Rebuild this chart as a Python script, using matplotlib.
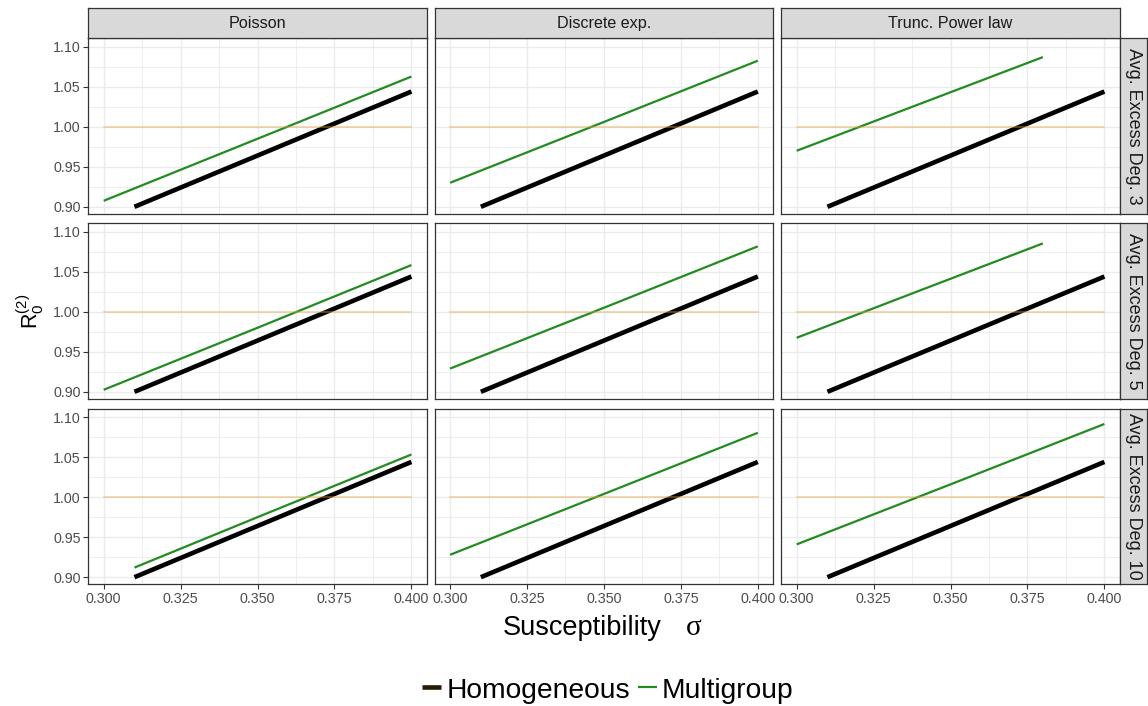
import matplotlib
matplotlib.use("Agg")
import matplotlib.pyplot as plt
from matplotlib.lines import Line2D
import numpy as np

plt.rcParams['font.family'] = ['Liberation Sans', 'DejaVu Sans']
plt.rcParams['mathtext.fontset'] = 'custom'
plt.rcParams['mathtext.rm'] = 'Liberation Sans'
plt.rcParams['mathtext.it'] = 'Liberation Sans:italic'
plt.rcParams['mathtext.bf'] = 'Liberation Sans:bold'

# ---- data -------------------------------------------------------------
distributions = ["Poisson", "Discrete exp.", "Trunc. Power law"]
excess_degrees = [3, 5, 10]

# homogeneous model (identical in every panel)
sigma_homog = [0.31, 0.35, 0.40]
r0_homog = [0.900, 0.964, 1.044]

# multigroup model, one row per average excess degree (3, 5, 10)
mg_poisson_sigma = [[0.30, 0.35, 0.40], [0.30, 0.35, 0.40], [0.31, 0.35, 0.40]]
mg_poisson_r0 = [[0.9075, 0.985, 1.0627], [0.9025, 0.980, 1.0583], [0.912, 0.975, 1.0533]]
mg_discexp_sigma = [[0.30, 0.35, 0.40], [0.30, 0.35, 0.40], [0.30, 0.35, 0.40]]
mg_discexp_r0 = [[0.930, 1.006, 1.0825], [0.929, 1.005, 1.0817], [0.928, 1.004, 1.0804]]
mg_powerlaw_sigma = [[0.30, 0.34, 0.38], [0.30, 0.34, 0.38], [0.30, 0.35, 0.40]]
mg_powerlaw_r0 = [[0.970, 1.0285, 1.087], [0.9675, 1.0265, 1.0854], [0.941, 1.016, 1.0914]]

threshold_sigma = [0.30, 0.40]
threshold = 1.0

x_ticks = [0.300, 0.325, 0.350, 0.375, 0.400]
y_ticks = [0.90, 0.95, 1.00, 1.05, 1.10]

mg_sigma = [mg_poisson_sigma, mg_discexp_sigma, mg_powerlaw_sigma]
mg_r0 = [mg_poisson_r0, mg_discexp_r0, mg_powerlaw_r0]

# ---- layout (pixels) --------------------------------------------------
W, H = 1148, 706
fig = plt.figure(figsize=(W / 100, H / 100), dpi=100)


def rect(left, top, width, height):
    return [left / W, 1 - (top + height) / H, width / W, height / H]


col_left = [88.3, 434.7, 781.3]
row_top = [38.3, 223.3, 408.7]
pw, ph = 338.5, 175.7

BORDER = '#333333'
GRID = '#EBEBEB'
STRIP = '#D9D9D9'
GREEN = '#228B22'
ORANGE = '#E8A33A'

for r in range(3):
    for c in range(3):
        ax = fig.add_axes(rect(col_left[c], row_top[r], pw, ph))
        ax.set_xlim(0.295, 0.405)
        ax.set_ylim(0.891, 1.1105)
        ax.set_xticks(x_ticks)
        ax.set_xticks(np.array(x_ticks[:-1]) + 0.0125, minor=True)
        ax.set_yticks(y_ticks)
        ax.set_yticks(np.array(y_ticks[:-1]) + 0.025, minor=True)
        ax.set_xticklabels([f"{v:.3f}" for v in x_ticks])
        ax.set_yticklabels([f"{v:.2f}" for v in y_ticks])
        ax.grid(which='major', color=GRID, lw=1.0)
        ax.grid(which='minor', color=GRID, lw=0.6)
        ax.set_axisbelow(True)
        ax.tick_params(which='minor', length=0)
        ax.tick_params(which='major', length=3.5, width=0.8, color=BORDER,
                       labelsize=10.3, labelcolor='#4D4D4D', pad=2)
        if c > 0:
            ax.tick_params(axis='y', left=False, labelleft=False)
        if r < 2:
            ax.tick_params(axis='x', bottom=False, labelbottom=False)
        for s in ax.spines.values():
            s.set_color(BORDER)
            s.set_linewidth(0.9)

        ax.plot(sigma_homog, r0_homog, color='black', lw=3.3,
                solid_capstyle='butt', zorder=2)
        ax.plot(mg_sigma[c][r], mg_r0[c][r], color=GREEN, lw=1.6,
                solid_capstyle='butt', zorder=2)
        ax.plot(threshold_sigma, [threshold, threshold], color=ORANGE,
                alpha=0.5, lw=1.1, zorder=3)

# column strips
for c, name in enumerate(distributions):
    sa = fig.add_axes(rect(col_left[c], 8.3, pw, 30.0))
    sa.set_facecolor(STRIP)
    sa.set_xticks([])
    sa.set_yticks([])
    for s in sa.spines.values():
        s.set_color(BORDER)
        s.set_linewidth(0.9)
    sa.text(0.5, 0.5, name, ha='center', va='center', fontsize=11.6,
            color='#1A1A1A', transform=sa.transAxes)

# row strips
for r, k in enumerate(excess_degrees):
    sa = fig.add_axes(rect(1119.7, row_top[r], 27.3, ph))
    sa.set_facecolor(STRIP)
    sa.set_xticks([])
    sa.set_yticks([])
    for s in sa.spines.values():
        s.set_color(BORDER)
        s.set_linewidth(0.9)
    sa.text(0.5, 0.5, f"Avg. Excess Deg. {k}", ha='center', va='center',
            rotation=-90, fontsize=13, color='#1A1A1A', transform=sa.transAxes)

# axis titles
fig.text(30 / W, 1 - 311 / H, r'$\mathrm{R}_0^{(2)}$', rotation=90,
         ha='center', va='center', fontsize=15.5)
fig.text(662 / W, 1 - 635 / H, "Susceptibility", ha='right', va='baseline',
         fontsize=19.5)
fig.text(686 / W, 1 - 635 / H, "σ", ha='left', va='baseline',
         fontsize=21, family=['Liberation Serif', 'DejaVu Serif'])

# legend
ky = 1 - 687 / H
fig.add_artist(Line2D([421.7 / W, 441 / W], [ky, ky], color='#241a05', lw=3.3,
                      solid_capstyle='butt'))
fig.text(447 / W, 1 - 698 / H, "Homogeneous", ha='left', va='baseline',
         fontsize=20.3)
fig.add_artist(Line2D([638 / W, 657 / W], [ky, ky], color=GREEN, lw=1.6,
                      solid_capstyle='butt'))
fig.text(662 / W, 1 - 698 / H, "Multigroup", ha='left', va='baseline',
         fontsize=20.3)

fig.savefig("out.png", dpi=100, facecolor='white')
